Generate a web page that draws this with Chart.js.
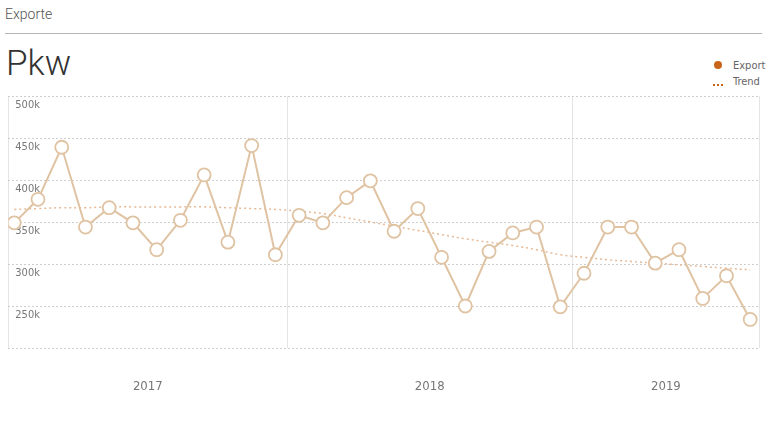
<!DOCTYPE html>
<html>
<head>
<meta charset="utf-8">
<script src="https://cdn.jsdelivr.net/npm/chart.js@4"></script>
<style>
  body { margin: 0; background: #fff; font-family: Roboto, sans-serif; }
  #page { position: relative; width: 768px; height: 421px; overflow: hidden; }
  #head { position: absolute; left: 5px; top: 6px; font-size: 14px; font-weight: 300; color: #555; }
  #rule { position: absolute; left: 5px; top: 33px; width: 757px; height: 0; border-top: 1.5px solid #b5b5b5; }
  #title { position: absolute; left: 6px; top: 43px; font-size: 35px; font-weight: 300; color: #333; }
  .leg { position: absolute; left: 733px; font-family: "Liberation Sans Narrow", "DejaVu Sans Condensed", sans-serif; font-size: 11px; color: #666; }
  #dot { position: absolute; left: 714px; top: 61px; width: 8px; height: 8px; border-radius: 50%; background: #c8651b; }
  #dash { position: absolute; left: 713px; top: 84px; width: 10px; border-top: 2px dotted #c8651b; }
  #wrap { position: absolute; left: 0; top: 0; width: 768px; height: 421px; }
</style>
</head>
<body>
<div id="page">
  <div id="head">Exporte</div>
  <div id="rule"></div>
  <div id="title">Pkw</div>
  <div id="dot"></div><div class="leg" style="top:59px">Export</div>
  <div id="dash"></div><div class="leg" style="top:75px">Trend</div>
  <div id="wrap"><canvas id="exportChart"></canvas></div>
</div>
<script>
// monthly values, Jan 2017 - Aug 2019
var years = ["2017", "2018", "2019"];
var monthsPerYear = [12, 12, 8];
var exportValues = [349000, 377000, 439000, 344000, 367000, 349000, 317000, 352000, 406000, 326000, 441000, 311000,
                    358000, 349000, 379000, 399000, 339000, 366000, 308000, 250000, 315000, 337000, 344000, 249000,
                    289000, 344000, 344000, 301000, 317000, 259000, 286000, 234000];
var trendValues = [365000, 366000, 367000, 367000, 368000, 368000, 368000, 368000, 368000, 367000, 366000, 365000,
                   363000, 360000, 355000, 350000, 345000, 340000, 335000, 330000, 326000, 322000, 317000, 311000,
                   308000, 305000, 303000, 301000, 299000, 297000, 295000, 293000];
var yTicks = [200000, 250000, 300000, 350000, 400000, 450000, 500000];

var xMin = -0.25, xMax = 31.4;

// year boundaries and year centres in month units
var bounds = [xMin];
var centres = [];
var start = 0;
for (var i = 0; i < years.length; i++) {
    var left = i === 0 ? xMin : start - 0.5;
    var end = start + monthsPerYear[i];
    var right = i === years.length - 1 ? xMax : end - 0.5;
    if (i < years.length - 1) bounds.push(right);
    centres.push((left + right) / 2);
    start = end;
}
bounds.push(xMax);

var exportPts = exportValues.map(function (v, i) { return { x: i, y: v }; });
var trendPts = trendValues.map(function (v, i) { return { x: i, y: v }; });

var tan = '#dfc3a3';
var narrow = '"Liberation Sans Narrow", "DejaVu Sans Condensed", sans-serif';

var ctx = document.getElementById('exportChart');
var myChart = new Chart(ctx, {
    type: 'line',
    data: {
        datasets: [{
            label: 'Export',
            data: exportPts,
            borderColor: tan,
            borderWidth: 2,
            backgroundColor: '#fff',
            pointRadius: 6.5,
            pointBorderWidth: 1.8,
            pointBackgroundColor: '#fff',
            pointBorderColor: tan,
            tension: 0
        }, {
            label: 'Trend',
            data: trendPts,
            borderColor: '#e6b996',
            borderWidth: 1.5,
            borderDash: [2, 3],
            pointRadius: 0,
            tension: 0.4
        }]
    },
    options: {
        responsive: true,
        maintainAspectRatio: false,
        animation: false,
        layout: { padding: { top: 96, left: 5, right: 6, bottom: 13 } },
        plugins: { legend: { display: false }, tooltip: { enabled: false } },
        scales: {
            x: {
                type: 'linear',
                min: xMin,
                max: xMax,
                afterBuildTicks: function (s) { s.ticks = bounds.map(function (v) { return { value: v }; }); },
                afterFit: function (s) { s.height = 0; },
                ticks: { display: false },
                grid: { color: '#e4e4e4', lineWidth: 1, drawTicks: false },
                border: { display: false }
            },
            years: {
                type: 'linear',
                position: 'bottom',
                min: xMin,
                max: xMax,
                afterBuildTicks: function (s) { s.ticks = centres.map(function (v) { return { value: v }; }); },
                afterFit: function (s) { s.height = 60; },
                ticks: {
                    padding: 23,
                    maxRotation: 0,
                    color: '#777',
                    font: { family: narrow, size: 13 },
                    callback: function (v, idx) { return years[idx]; }
                },
                grid: { display: false },
                border: { display: false }
            },
            y: {
                min: yTicks[0],
                max: yTicks[yTicks.length - 1],
                afterBuildTicks: function (s) { s.ticks = yTicks.map(function (v) { return { value: v }; }); },
                afterFit: function (s) { s.width = 0; },
                ticks: {
                    mirror: true,
                    padding: 7,
                    labelOffset: 9,
                    color: '#777',
                    font: { family: narrow, size: 11 },
                    callback: function (v) { return v === yTicks[0] ? '' : (v / 1000) + 'k'; }
                },
                grid: { color: '#cfcfcf', lineWidth: 1, drawTicks: false },
                border: { display: false, dash: [2, 2] }
            }
        }
    }
});
</script>
</body>
</html>
